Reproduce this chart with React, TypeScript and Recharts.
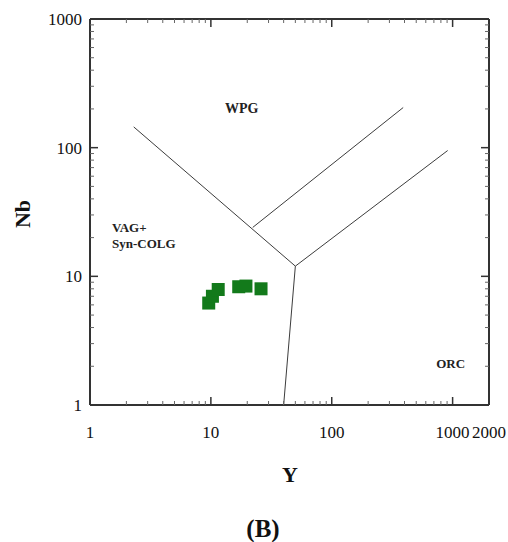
import React from 'react';
import { ScatterChart, Scatter, XAxis, YAxis } from 'recharts';

// ---- axis ticks ----
const X_MAJOR = [1, 10, 100, 1000, 2000];
const X_MINOR = [2, 3, 4, 5, 6, 7, 8, 9, 20, 30, 40, 50, 60, 70, 80, 90, 200, 300, 400, 500, 600, 700, 800, 900];
const Y_MAJOR = [1, 10, 100, 1000];
const Y_MINOR = [2, 3, 4, 5, 6, 7, 8, 9, 20, 30, 40, 50, 60, 70, 80, 90, 200, 300, 400, 500, 600, 700, 800, 900];

// ---- samples (Y ppm vs Nb ppm) ----
const sampleY = [9.6, 10.3, 11.5, 17, 19.5, 26];
const sampleNb = [6.2, 7.0, 7.9, 8.3, 8.4, 8.0];

// ---- discrimination boundaries ----
const wpgVagY = [2.3, 50];
const wpgVagNb = [145, 12];
const upperY = [22.2, 390];
const upperNb = [24, 205];
const lowerY = [50, 910];
const lowerNb = [12, 95];
const orcY = [50, 40];
const orcNb = [12, 1];

// ---- field labels ----
const fieldNames = ['WPG', 'VAG+', 'Syn-COLG', 'ORC'];
const fieldY = [18, 1.52, 1.52, 962];
const fieldNb = [204, 24, 18.2, 2.12];
const fieldAnchor = ['middle', 'start', 'start', 'middle'];
const fieldSize = [14, 13, 13, 13];

const toPts = (xs: number[], ys: number[]) => xs.map((x, i) => ({ x, y: ys[i] }));

const samples = toPts(sampleY, sampleNb);
const fields = fieldNames.map((name, i) => ({ x: fieldY[i], y: fieldNb[i], name, anchor: fieldAnchor[i], fs: fieldSize[i] }));

const FONT = '"Liberation Serif", "Times New Roman", serif';
const AXIS = '#333';

const sorted = (a: number[], b: number[]) => [...a, ...b].sort((p, q) => p - q);

const makeXTick = (side: 'bottom' | 'top') => (props: any) => {
  const { x, y, payload } = props;
  const v = payload.value;
  const major = X_MAJOR.includes(v);
  const len = major ? 8 : 4;
  const dir = side === 'bottom' ? -1 : 1;
  const edge = v === 1 || v === 2000;
  return (
    <g>
      {!edge && (
        <line x1={x} x2={x} y1={y} y2={y + dir * len} stroke={major ? '#333' : '#666'} strokeWidth={major ? 1.5 : 1} />
      )}
      {side === 'bottom' && major && (
        <text x={x} y={y + 33} textAnchor="middle" fontFamily={FONT} fontSize={17} fill="#111">
          {String(v)}
        </text>
      )}
    </g>
  );
};

const makeYTick = (side: 'left' | 'right') => (props: any) => {
  const { x, y, payload } = props;
  const v = payload.value;
  const major = Y_MAJOR.includes(v);
  const len = major ? 8 : 4;
  const dir = side === 'left' ? 1 : -1;
  const edge = v === 1 || v === 1000;
  return (
    <g>
      {!edge && (
        <line x1={x} x2={x + dir * len} y1={y} y2={y} stroke={major ? '#333' : '#666'} strokeWidth={major ? 1.5 : 1} />
      )}
      {side === 'left' && major && (
        <text x={x - 8} y={y + 6} textAnchor="end" fontFamily={FONT} fontSize={17} fill="#111">
          {String(v)}
        </text>
      )}
    </g>
  );
};

const SquareShape = (props: any) => {
  const { cx, cy } = props;
  const s = 13;
  return <rect x={cx - s / 2} y={cy - s / 2} width={s} height={s} fill="#137a1b" />;
};

const NoShape = () => <g />;

const FieldLabel = (props: any) => {
  const { cx, cy, payload } = props;
  return (
    <text
      x={cx}
      y={cy + 5}
      textAnchor={payload.anchor}
      fontFamily={FONT}
      fontWeight="bold"
      fontSize={payload.fs}
      fill="#222"
    >
      {payload.name}
    </text>
  );
};

const lineStyle = { stroke: '#3c3c3c', strokeWidth: 1 };

export default function App() {
  return (
    <div style={{ position: 'absolute', left: 0, top: 0, width: 508, height: 542, background: '#fff' }}>
      <ScatterChart width={508} height={542} margin={{ top: 18, right: 18, bottom: 107, left: 30 }}>
        <XAxis
          xAxisId="b"
          dataKey="x"
          type="number"
          scale="log"
          domain={[1, 2000]}
          allowDataOverflow
          ticks={sorted(X_MAJOR, X_MINOR)}
          interval={0}
          tickSize={0}
          tickMargin={0}
          tickLine={false}
          tick={makeXTick('bottom')}
          axisLine={{ stroke: AXIS, strokeWidth: 2 }}
          height={30}
          orientation="bottom"
        />
        <XAxis
          xAxisId="t"
          dataKey="x"
          type="number"
          scale="log"
          domain={[1, 2000]}
          allowDataOverflow
          ticks={sorted(X_MAJOR, X_MINOR)}
          interval={0}
          tickSize={0}
          tickMargin={0}
          tickLine={false}
          tick={makeXTick('top')}
          axisLine={{ stroke: AXIS, strokeWidth: 2 }}
          height={1}
          orientation="top"
        />
        <YAxis
          yAxisId="l"
          dataKey="y"
          type="number"
          scale="log"
          domain={[1, 1000]}
          allowDataOverflow
          ticks={sorted(Y_MAJOR, Y_MINOR)}
          interval={0}
          tickSize={0}
          tickMargin={0}
          tickLine={false}
          tick={makeYTick('left')}
          axisLine={{ stroke: AXIS, strokeWidth: 2 }}
          width={60}
          orientation="left"
        />
        <YAxis
          yAxisId="r"
          dataKey="y"
          type="number"
          scale="log"
          domain={[1, 1000]}
          allowDataOverflow
          ticks={sorted(Y_MAJOR, Y_MINOR)}
          interval={0}
          tickSize={0}
          tickMargin={0}
          tickLine={false}
          tick={makeYTick('right')}
          axisLine={{ stroke: AXIS, strokeWidth: 2 }}
          width={1}
          orientation="right"
        />
        <Scatter xAxisId="t" yAxisId="r" data={toPts(wpgVagY, wpgVagNb)} line={lineStyle} shape={NoShape} isAnimationActive={false} legendType="none" />
        <Scatter xAxisId="t" yAxisId="r" data={toPts(upperY, upperNb)} line={lineStyle} shape={NoShape} isAnimationActive={false} legendType="none" />
        <Scatter xAxisId="t" yAxisId="r" data={toPts(lowerY, lowerNb)} line={lineStyle} shape={NoShape} isAnimationActive={false} legendType="none" />
        <Scatter xAxisId="t" yAxisId="r" data={toPts(orcY, orcNb)} line={lineStyle} shape={NoShape} isAnimationActive={false} legendType="none" />
        <Scatter xAxisId="b" yAxisId="l" data={fields} shape={FieldLabel} isAnimationActive={false} legendType="none" />
        <Scatter xAxisId="b" yAxisId="l" data={samples} shape={SquareShape} isAnimationActive={false} legendType="none" />
      </ScatterChart>
      <svg width={508} height={542} style={{ position: 'absolute', left: 0, top: 0, pointerEvents: 'none' }}>
        <text x={30} y={214} transform="rotate(-90 30 214)" textAnchor="middle" fontFamily={FONT} fontWeight="bold" fontSize={22} fill="#111">
          Nb
        </text>
        <text x={290} y={482} textAnchor="middle" fontFamily={FONT} fontWeight="bold" fontSize={22} fill="#111">
          Y
        </text>
        <text x={263} y={537} textAnchor="middle" fontFamily={FONT} fontWeight="bold" fontSize={25} fill="#111">
          (B)
        </text>
      </svg>
    </div>
  );
}
